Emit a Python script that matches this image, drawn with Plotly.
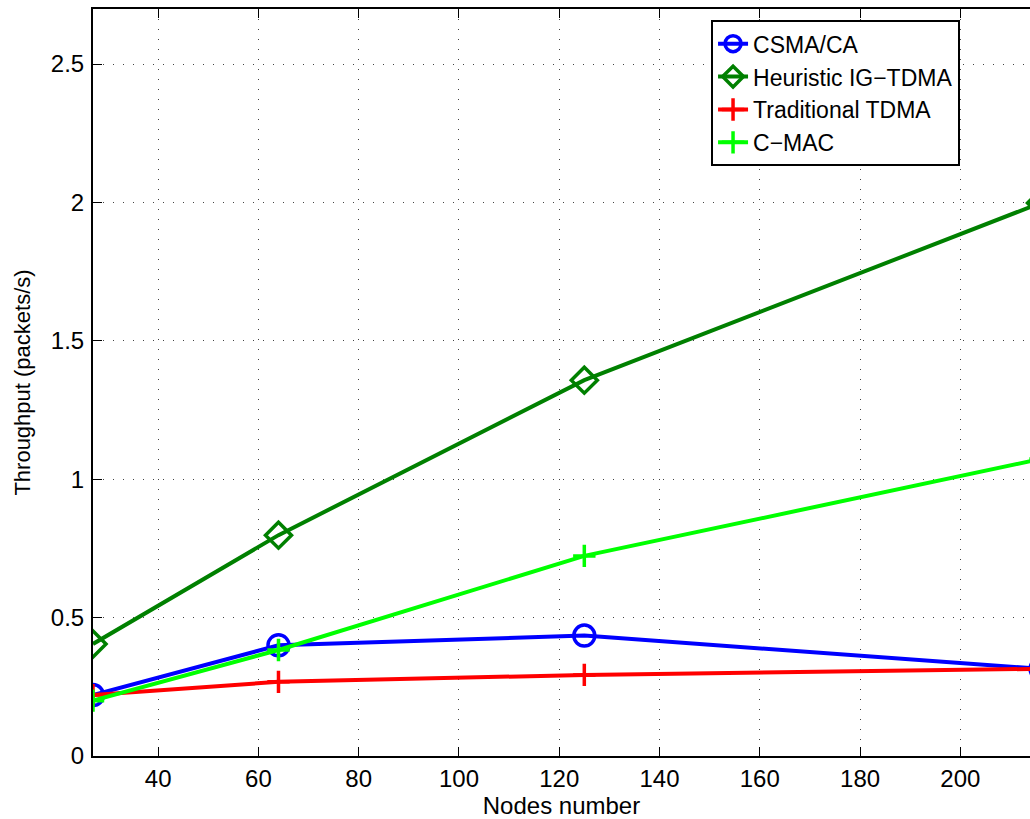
import plotly.graph_objects as go

nodes = [27, 64, 125, 216]
csma_ca = [0.22, 0.40, 0.435, 0.315]
heuristic_ig_tdma = [0.405, 0.798, 1.358, 1.998]
traditional_tdma = [0.22, 0.268, 0.293, 0.315]
c_mac = [0.20, 0.383, 0.723, 1.073]

series_names = ["CSMA/CA", "Heuristic IG\u2212TDMA", "Traditional TDMA", "C\u2212MAC"]
x_ticks = [40, 60, 80, 100, 120, 140, 160, 180, 200]
y_ticks = [0, 0.5, 1, 1.5, 2, 2.5]
y_tick_text = ["0", "0.5", "1", "1.5", "2", "2.5"]

FONT = "Liberation Sans, Arial, Helvetica, sans-serif"

fig = go.Figure()
styles = [
    (csma_ca, "#0000ff", "circle-open", 21),
    (heuristic_ig_tdma, "#008000", "diamond-open", 20),
    (traditional_tdma, "#ff0000", "cross-thin-open", 16),
    (c_mac, "#00ff00", "cross-thin-open", 16),
]
for name, (vals, color, sym, size) in zip(series_names, styles):
    fig.add_trace(go.Scatter(
        x=nodes, y=vals, name=name, mode="lines+markers",
        line=dict(color=color, width=4),
        marker=dict(symbol=sym, size=size, color=color,
                    line=dict(color=color, width=3.5)),
    ))

axis_common = dict(
    showgrid=True, gridcolor="#444444", griddash="1px,9px", gridwidth=1,
    zeroline=False, showline=True, linecolor="black", linewidth=2,
    ticks="inside", ticklen=9, tickwidth=1, tickcolor="black",
    tickfont=dict(family=FONT, size=24, color="black"),
)
fig.update_layout(
    width=1030, height=819,
    margin=dict(l=93, r=0, t=9, b=63),
    paper_bgcolor="white", plot_bgcolor="white",
    font=dict(family=FONT, size=24, color="black"),
    xaxis=dict(range=[27, 213.9], tickvals=x_ticks, mirror="ticks",
               ticklabelstandoff=0,
               title=dict(text="Nodes number", standoff=8,
                          font=dict(family=FONT, size=24)),
               **axis_common),
    yaxis=dict(range=[0, 2.699], tickvals=y_ticks, ticktext=y_tick_text,
               mirror=False, ticklabelstandoff=2,
               title=dict(text="Throughput (packets/s)", standoff=14,
                          font=dict(family=FONT, size=22)),
               **axis_common),
    legend=dict(x=0.6596, y=0.985, xanchor="left", yanchor="top",
                bgcolor="white", bordercolor="black", borderwidth=2,
                font=dict(family=FONT, size=23), tracegroupgap=0,
                entrywidth=270, entrywidthmode="pixels"),
    showlegend=True,
)
fig.write_html("out.html", config={"displayModeBar": False},
               post_script="document.body.style.margin='0';")
